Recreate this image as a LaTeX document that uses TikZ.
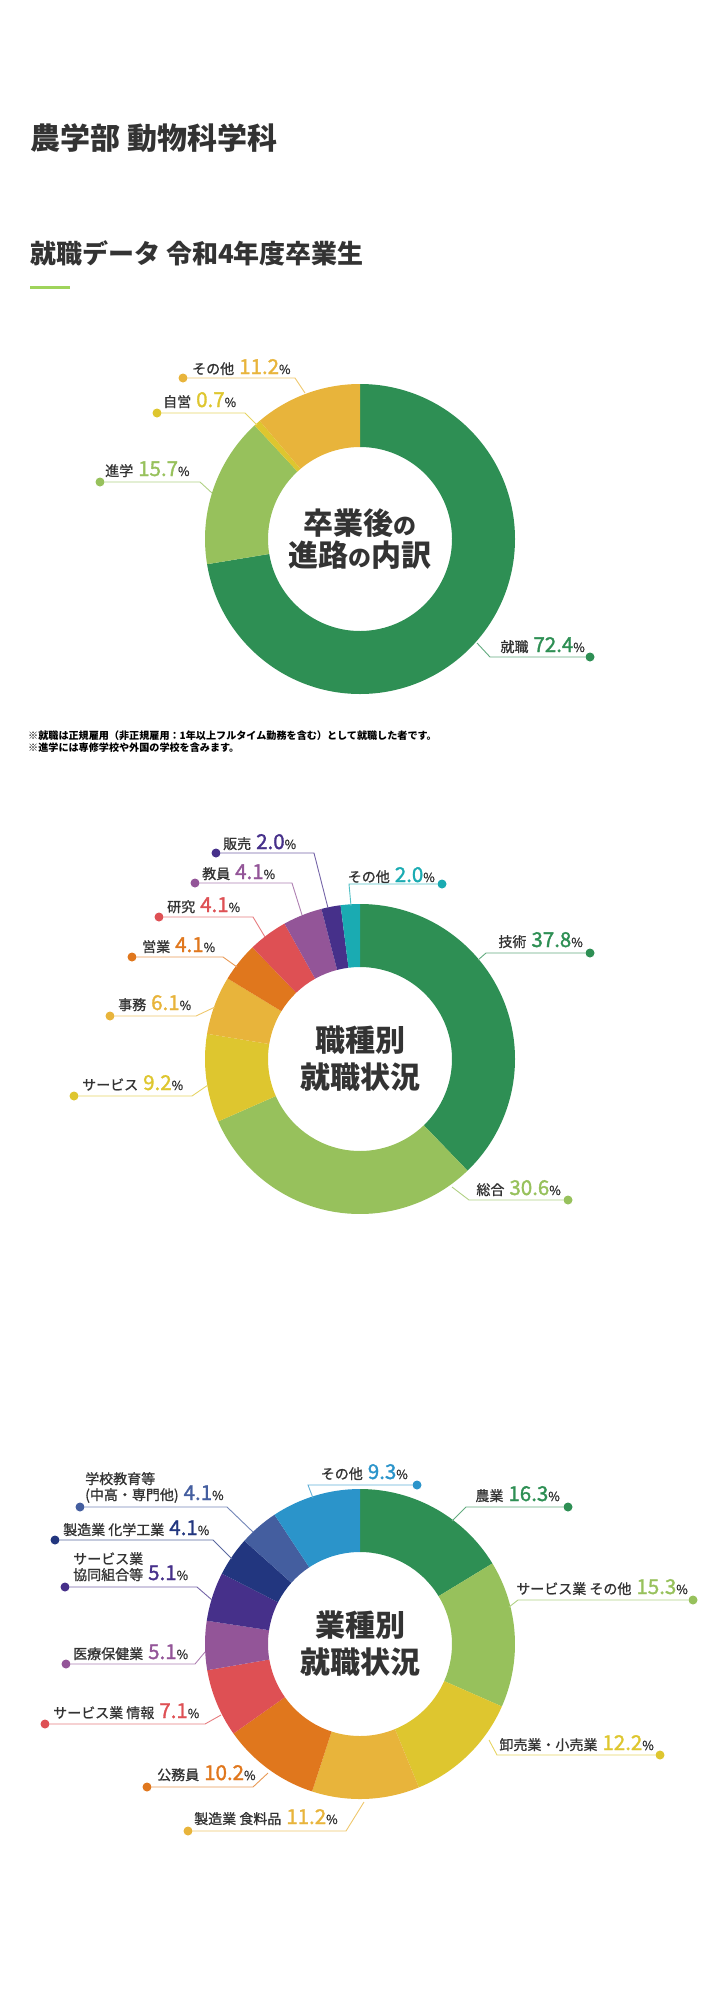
\documentclass[tikz,border=0pt]{standalone}
\usepackage{fontspec}
\setmainfont{Noto Sans CJK JP}
\newfontfamily\lblfont[FakeBold=1]{Noto Sans CJK JP}
\newfontfamily\numfont[FakeBold=1.5]{Noto Sans CJK JP}
\usetikzlibrary{positioning,calc}

\definecolor{ink}{HTML}{333333}
\definecolor{bar}{HTML}{9FD45B}
\definecolor{cGreen}{HTML}{2E8F54}
\definecolor{cLime}{HTML}{97C15C}
\definecolor{cYellow}{HTML}{DEC62F}
\definecolor{cGold}{HTML}{E8B43B}
\definecolor{cOrange}{HTML}{E0771D}
\definecolor{cRed}{HTML}{DE5054}
\definecolor{cPurple}{HTML}{935598}
\definecolor{cViolet}{HTML}{46308A}
\definecolor{cTeal}{HTML}{1AABB2}
\definecolor{cNavy}{HTML}{22367F}
\definecolor{cSlate}{HTML}{445E9F}
\definecolor{cSky}{HTML}{2B94CA}

\newcommand{\ringslice}[4]{\fill[#4] ([shift={(#1)}]#2:155) arc[start angle=#2, end angle=#3, radius=155] -- ([shift={(#1)}]#3:92) arc[start angle=#3, end angle=#2, radius=92] -- cycle;}
\newcommand{\pctval}[2]{\hspace{5pt}{\numfont\fontsize{20.5}{20.5}\selectfont\color{#1}#2}{\lblfont\fontsize{12.5}{12.5}\selectfont\%}}
\newcommand{\smallno}{{\fontsize{23}{23}\selectfont の}}

\begin{document}
\begin{tikzpicture}[x=1pt, y=1pt]
\tikzstyle{lbl} = [inner sep=0, text=ink, font=\lblfont\fontsize{14}{16}\selectfont]
\tikzstyle{dot} = [circle, inner sep=0, minimum size=9pt]
\tikzstyle{leader} = [line width=0.9pt]
\tikzstyle{head} = [inner sep=0, anchor=west, text=ink]
\tikzstyle{hole} = [align=center, text=ink]

\useasboundingbox (0,0) rectangle (720,-1999);

\node[head, font=\fontsize{30}{30}\selectfont\bfseries] (faculty) at (30,-138) {農学部 動物科学科};
\node[head, font=\fontsize{26}{26}\selectfont\bfseries] (heading) at (30,-253) {就職データ 令和4年度卒業生};
\draw[bar, line width=3pt] (30,-287) -- (70,-287);

\coordinate (c1) at (360,-539);
\ringslice{c1}{90}{-170.64}{cGreen}
\ringslice{c1}{-170.64}{-227.16}{cLime}
\ringslice{c1}{-227.16}{-229.68}{cYellow}
\ringslice{c1}{-229.68}{-270}{cGold}
\node[hole, font=\fontsize{30}{32}\selectfont\bfseries] (course) at (c1) {卒業後\smallno\\進路\smallno 内訳};

\node[lbl, anchor=base west] (tSonota1) at (192,-374) {その他\pctval{cGold}{11.2}};
\node[dot, fill=cGold] (dSonota1) at (183,-378) {};
\coordinate (eSonota1) at (305,-393);
\draw[leader, cGold!75] (eSonota1) -- ++(-10,15) -- (dSonota1);

\node[lbl, anchor=base west] (tJiei) at (163,-407) {自営\pctval{cYellow}{0.7}};
\node[dot, fill=cYellow] (dJiei) at (157,-413) {};
\coordinate (eJiei) at (257,-425);
\draw[leader, cYellow!75] (eJiei) -- ++(-12,12) -- (dJiei);

\node[lbl, anchor=base west] (tShingaku) at (105,-476) {進学\pctval{cLime}{15.7}};
\node[dot, fill=cLime] (dShingaku) at (100,-482) {};
\coordinate (eShingaku) at (212,-493);
\draw[leader, cLime!75] (eShingaku) -- ++(-12,11) -- (dShingaku);

\node[lbl, anchor=base east] (tShushoku) at (585,-652) {就職\pctval{cGreen}{72.4}};
\node[dot, fill=cGreen] (dShushoku) at (590,-657) {};
\coordinate (eShushoku) at (477,-643);
\draw[leader, cGreen!75] (eShushoku) -- ++(13,-14) -- (dShushoku);

\node[anchor=north west, align=left, inner sep=0, font=\fontsize{10.1}{11.5}\selectfont\bfseries] (note) at (28,-731) {※就職は正規雇用（非正規雇用：1年以上フルタイム勤務を含む）として就職した者です。\\※進学には専修学校や外国の学校を含みます。};

\coordinate (c2) at (360,-1059);
\ringslice{c2}{90}{-46.08}{cGreen}
\ringslice{c2}{-46.08}{-156.24}{cLime}
\ringslice{c2}{-156.24}{-189.36}{cYellow}
\ringslice{c2}{-189.36}{-211.32}{cGold}
\ringslice{c2}{-211.32}{-226.08}{cOrange}
\ringslice{c2}{-226.08}{-240.84}{cRed}
\ringslice{c2}{-240.84}{-255.6}{cPurple}
\ringslice{c2}{-255.6}{-262.8}{cViolet}
\ringslice{c2}{-262.8}{-270}{cTeal}
\node[hole, font=\fontsize{30}{37}\selectfont\bfseries] (job) at (c2) {職種別\\就職状況};

\node[lbl, anchor=base west] (tHanbai) at (223,-849) {販売\pctval{cViolet}{2.0}};
\node[dot, fill=cViolet] (dHanbai) at (216,-853) {};
\coordinate (eHanbai) at (328,-908);
\draw[leader, cViolet!75] (eHanbai) -- ++(-14,55) -- (dHanbai);

\node[lbl, anchor=base west] (tKyoin) at (202,-879) {教員\pctval{cPurple}{4.1}};
\node[dot, fill=cPurple] (dKyoin) at (195,-883) {};
\coordinate (eKyoin) at (302,-915);
\draw[leader, cPurple!75] (eKyoin) -- ++(-10,32) -- (dKyoin);

\node[lbl, anchor=base west] (tKenkyu) at (167,-912) {研究\pctval{cRed}{4.1}};
\node[dot, fill=cRed] (dKenkyu) at (159,-917) {};
\coordinate (eKenkyu) at (265,-937);
\draw[leader, cRed!75] (eKenkyu) -- ++(-12,20) -- (dKenkyu);

\node[lbl, anchor=base west] (tEigyo) at (142,-952) {営業\pctval{cOrange}{4.1}};
\node[dot, fill=cOrange] (dEigyo) at (132,-957) {};
\coordinate (eEigyo) at (237,-967);
\draw[leader, cOrange!75] (eEigyo) -- ++(-14,10) -- (dEigyo);

\node[lbl, anchor=base west] (tJimu) at (118,-1010) {事務\pctval{cGold}{6.1}};
\node[dot, fill=cGold] (dJimu) at (110,-1016) {};
\coordinate (eJimu) at (215,-1007);
\draw[leader, cGold!75] (eJimu) -- ++(-19,-9) -- (dJimu);

\node[lbl, anchor=base west] (tService) at (82,-1090) {サービス\pctval{cYellow}{9.2}};
\node[dot, fill=cYellow] (dService) at (74,-1096) {};
\coordinate (eService) at (208,-1085);
\draw[leader, cYellow!75] (eService) -- ++(-16,-11) -- (dService);

\node[lbl, anchor=base east] (tSogo) at (561,-1195) {総合\pctval{cLime}{30.6}};
\node[dot, fill=cLime] (dSogo) at (568,-1200) {};
\coordinate (eSogo) at (452,-1187);
\draw[leader, cLime!75] (eSogo) -- ++(17,-13) -- (dSogo);

\node[lbl, anchor=base east] (tGijutsu) at (583,-947) {技術\pctval{cGreen}{37.8}};
\node[dot, fill=cGreen] (dGijutsu) at (590,-953) {};
\coordinate (eGijutsu) at (478,-960);
\draw[leader, cGreen!75] (eGijutsu) -- ++(8,7) -- (dGijutsu);

\node[lbl, anchor=base east] (tSonota2) at (435,-882) {その他\pctval{cTeal}{2.0}};
\node[dot, fill=cTeal] (dSonota2) at (442,-884) {};
\coordinate (eSonota2) at (351,-906);
\draw[leader, cTeal!75] (eSonota2) -- ++(-2,22) -- (dSonota2);

\coordinate (c3) at (360,-1644);
\ringslice{c3}{90}{31.32}{cGreen}
\ringslice{c3}{31.32}{-23.76}{cLime}
\ringslice{c3}{-23.76}{-67.68}{cYellow}
\ringslice{c3}{-67.68}{-108}{cGold}
\ringslice{c3}{-108}{-144.72}{cOrange}
\ringslice{c3}{-144.72}{-170.28}{cRed}
\ringslice{c3}{-170.28}{-188.64}{cPurple}
\ringslice{c3}{-188.64}{-207}{cViolet}
\ringslice{c3}{-207}{-221.76}{cNavy}
\ringslice{c3}{-221.76}{-236.52}{cSlate}
\ringslice{c3}{-236.52}{-270}{cSky}
\node[hole, font=\fontsize{30}{37}\selectfont\bfseries] (industry) at (c3) {業種別\\就職状況};

\node[lbl, anchor=base east] (tSonota3) at (408,-1479) {その他\pctval{cSky}{9.3}};
\node[dot, fill=cSky] (dSonota3) at (417,-1485) {};
\coordinate (eSonota3) at (313,-1498);
\draw[leader, cSky!75] (eSonota3) -- ++(-5,13) -- (dSonota3);

\node[lbl, anchor=base east] (tNogyo) at (560,-1501) {農業\pctval{cGreen}{16.3}};
\node[dot, fill=cGreen] (dNogyo) at (568,-1507) {};
\coordinate (eNogyo) at (452,-1521);
\draw[leader, cGreen!75] (eNogyo) -- ++(14,14) -- (dNogyo);

\node[lbl, anchor=base east] (tSvSonota) at (688,-1594) {サービス業 その他\pctval{cLime}{15.3}};
\node[dot, fill=cLime] (dSvSonota) at (693,-1600) {};
\coordinate (eSvSonota) at (509,-1607);
\draw[leader, cLime!75] (eSvSonota) -- ++(9,7) -- (dSvSonota);

\node[lbl, anchor=base east] (tOroshi) at (654,-1750) {卸売業・小売業\pctval{cYellow}{12.2}};
\node[dot, fill=cYellow] (dOroshi) at (660,-1755) {};
\coordinate (eOroshi) at (489,-1740);
\draw[leader, cYellow!75] (eOroshi) -- ++(8,-15) -- (dOroshi);

\node[lbl, anchor=base west] (tShokuryo) at (194,-1824) {製造業 食料品\pctval{cGold}{11.2}};
\node[dot, fill=cGold] (dShokuryo) at (188,-1831) {};
\coordinate (eShokuryo) at (364,-1802);
\draw[leader, cGold!75] (eShokuryo) -- ++(-18,-29) -- (dShokuryo);

\node[lbl, anchor=base west] (tKomuin) at (157,-1780) {公務員\pctval{cOrange}{10.2}};
\node[dot, fill=cOrange] (dKomuin) at (147,-1787) {};
\coordinate (eKomuin) at (268,-1773);
\draw[leader, cOrange!75] (eKomuin) -- ++(-15,-14) -- (dKomuin);

\node[lbl, anchor=base west] (tJoho) at (53,-1718) {サービス業 情報\pctval{cRed}{7.1}};
\node[dot, fill=cRed] (dJoho) at (45,-1724) {};
\coordinate (eJoho) at (221,-1715);
\draw[leader, cRed!75] (eJoho) -- ++(-16,-9) -- (dJoho);

\node[lbl, anchor=base west] (tIryo) at (73,-1659) {医療保健業\pctval{cPurple}{5.1}};
\node[dot, fill=cPurple] (dIryo) at (66,-1664) {};
\coordinate (eIryo) at (205,-1652);
\draw[leader, cPurple!75] (eIryo) -- ++(-10,-12) -- (dIryo);

\node[lbl, anchor=base west] (tKyodo) at (73,-1580) {協同組合等\pctval{cViolet}{5.1}};
\node[lbl, anchor=base west] (tKyodoTop) at ([yshift=16pt]tKyodo.base west) {サービス業};
\node[dot, fill=cViolet] (dKyodo) at (65,-1587) {};
\coordinate (eKyodo) at (212,-1600);
\draw[leader, cViolet!75] (eKyodo) -- ++(-15,13) -- (dKyodo);

\node[lbl, anchor=base west] (tKagaku) at (63,-1535) {製造業 化学工業\pctval{cNavy}{4.1}};
\node[dot, fill=cNavy] (dKagaku) at (55,-1540) {};
\coordinate (eKagaku) at (232,-1559);
\draw[leader, cNavy!75] (eKagaku) -- ++(-19,19) -- (dKagaku);

\node[lbl, anchor=base west] (tGakko) at (85,-1500) {(中高・専門他)\pctval{cSlate}{4.1}};
\node[lbl, anchor=base west] (tGakkoTop) at ([yshift=16pt]tGakko.base west) {学校教育等};
\node[dot, fill=cSlate] (dGakko) at (80,-1507) {};
\coordinate (eGakko) at (253,-1532);
\draw[leader, cSlate!75] (eGakko) -- ++(-26,25) -- (dGakko);

\end{tikzpicture}
\end{document}
